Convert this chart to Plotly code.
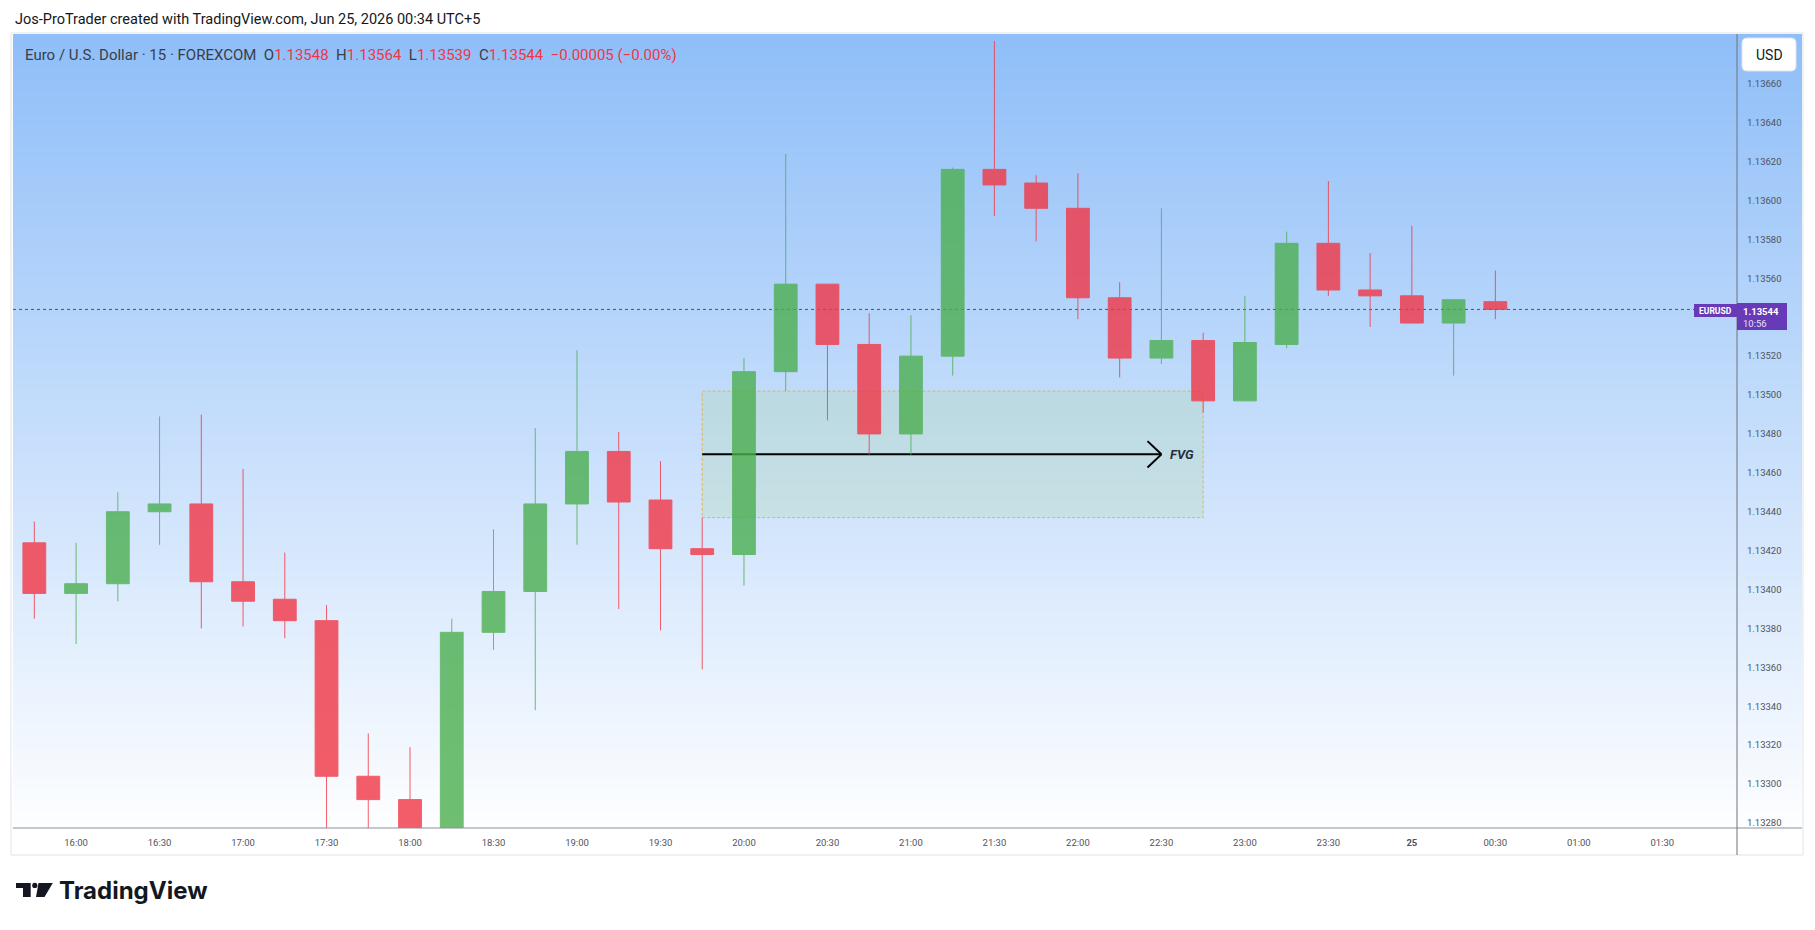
import zlib, struct, base64
import plotly.graph_objects as go

# ---------------- data ----------------
times = [
    "2026-06-24 15:45", "2026-06-24 16:00", "2026-06-24 16:15", "2026-06-24 16:30",
    "2026-06-24 16:45", "2026-06-24 17:00", "2026-06-24 17:15", "2026-06-24 17:30",
    "2026-06-24 17:45", "2026-06-24 18:00", "2026-06-24 18:15", "2026-06-24 18:30",
    "2026-06-24 18:45", "2026-06-24 19:00", "2026-06-24 19:15", "2026-06-24 19:30",
    "2026-06-24 19:45", "2026-06-24 20:00", "2026-06-24 20:15", "2026-06-24 20:30",
    "2026-06-24 20:45", "2026-06-24 21:00", "2026-06-24 21:15", "2026-06-24 21:30",
    "2026-06-24 21:45", "2026-06-24 22:00", "2026-06-24 22:15", "2026-06-24 22:30",
    "2026-06-24 22:45", "2026-06-24 23:00", "2026-06-24 23:15", "2026-06-24 23:30",
    "2026-06-24 23:45", "2026-06-25 00:00", "2026-06-25 00:15", "2026-06-25 00:30",
]
opens = [1.13424, 1.13398, 1.13403, 1.13440, 1.13444, 1.13404, 1.13395, 1.13384,
         1.13304, 1.13292, 1.13262, 1.13378, 1.13399, 1.13444, 1.13471, 1.13446,
         1.13421, 1.13418, 1.13512, 1.13557, 1.13526, 1.13480, 1.13520, 1.13616,
         1.13609, 1.13596, 1.13550, 1.13519, 1.13528, 1.13497, 1.13526, 1.13578,
         1.13554, 1.13551, 1.13537, 1.13548]
highs = [1.13435, 1.13424, 1.13450, 1.13489, 1.13490, 1.13462, 1.13419, 1.13392,
         1.13326, 1.13319, 1.13385, 1.13431, 1.13483, 1.13523, 1.13481, 1.13466,
         1.13437, 1.13519, 1.13624, 1.13557, 1.13542, 1.13541, 1.13617, 1.13682,
         1.13613, 1.13614, 1.13558, 1.13596, 1.13532, 1.13551, 1.13584, 1.13610,
         1.13573, 1.13587, 1.13549, 1.13564]
lows = [1.13385, 1.13372, 1.13394, 1.13423, 1.13380, 1.13381, 1.13375, 1.13262,
        1.13265, 1.13250, 1.13255, 1.13369, 1.13338, 1.13423, 1.13390, 1.13379,
        1.13359, 1.13402, 1.13502, 1.13487, 1.13469, 1.13469, 1.13510, 1.13592,
        1.13579, 1.13539, 1.13509, 1.13516, 1.13491, 1.13497, 1.13524, 1.13551,
        1.13535, 1.13537, 1.13510, 1.13539]
closes = [1.13398, 1.13403, 1.13440, 1.13444, 1.13404, 1.13394, 1.13384, 1.13304,
          1.13292, 1.13262, 1.13378, 1.13399, 1.13444, 1.13471, 1.13445, 1.13421,
          1.13418, 1.13512, 1.13557, 1.13526, 1.13480, 1.13520, 1.13616, 1.13608,
          1.13596, 1.13550, 1.13519, 1.13528, 1.13497, 1.13527, 1.13578, 1.13554,
          1.13551, 1.13537, 1.13549, 1.13544]

price_ticks = [1.13280, 1.13300, 1.13320, 1.13340, 1.13360, 1.13380, 1.13400, 1.13420,
               1.13440, 1.13460, 1.13480, 1.13500, 1.13520, 1.13560, 1.13580,
               1.13600, 1.13620, 1.13640, 1.13660]
time_ticks = ["2026-06-24 16:00", "2026-06-24 16:30", "2026-06-24 17:00", "2026-06-24 17:30",
              "2026-06-24 18:00", "2026-06-24 18:30", "2026-06-24 19:00", "2026-06-24 19:30",
              "2026-06-24 20:00", "2026-06-24 20:30", "2026-06-24 21:00", "2026-06-24 21:30",
              "2026-06-24 22:00", "2026-06-24 22:30", "2026-06-24 23:00", "2026-06-24 23:30",
              "2026-06-25 00:00", "2026-06-25 00:30", "2026-06-25 01:00", "2026-06-25 01:30"]
time_labels = ["16:00", "16:30", "17:00", "17:30", "18:00", "18:30", "19:00", "19:30",
               "20:00", "20:30", "21:00", "21:30", "22:00", "22:30", "23:00", "23:30",
               "<b>25</b>", "00:30", "01:00", "01:30"]

x_range = ["2026-06-24 15:37:20", "2026-06-25 01:56:50"]
y_range = [1.132774, 1.136851]

# FVG: gap between the 19:45 high and the 20:15 low, drawn to 22:45
fvg_first, fvg_third, fvg_end, arrow_end = 16, 18, 28, 27

GREEN = "#4CAF50"
RED = "#F23645"
PURPLE = "#673AB7"
TXT = "#131722"
AX = "#50535e"
FONT = "Roboto, Arial, sans-serif"

# ---------------- helpers (pixel -> paper) ----------------
PL, PT, PR, PB = 13, 35, 1737, 828
PW, PH = PR - PL, PB - PT


def px(x):
    return (x - PL) / PW


def py(y):
    return (PB - y) / PH


def gradient_png(top, bottom, n=256):
    raw = b""
    for i in range(n):
        t = i / (n - 1)
        c = bytes(int(round(top[k] + (bottom[k] - top[k]) * t)) for k in range(3))
        raw += b"\x00" + c + c
    def chunk(tag, data):
        return (struct.pack(">I", len(data)) + tag + data
                + struct.pack(">I", zlib.crc32(tag + data) & 0xFFFFFFFF))
    png = (b"\x89PNG\r\n\x1a\n"
           + chunk(b"IHDR", struct.pack(">IIBBBBB", 2, n, 8, 2, 0, 0, 0))
           + chunk(b"IDAT", zlib.compress(raw))
           + chunk(b"IEND", b""))
    return "data:image/png;base64," + base64.b64encode(png).decode()


fig = go.Figure()
fig.add_trace(go.Candlestick(
    x=times, open=opens, high=highs, low=lows, close=closes,
    increasing=dict(line=dict(color=GREEN, width=1), fillcolor=GREEN),
    decreasing=dict(line=dict(color=RED, width=1), fillcolor=RED),
    whiskerwidth=0, opacity=0.8, showlegend=False, hoverinfo="skip",
))

shapes = []
# FVG box
shapes.append(dict(type="rect", xref="x", yref="y", layer="below",
                   x0=times[fvg_first], x1=times[fvg_end],
                   y0=highs[fvg_first], y1=lows[fvg_third],
                   fillcolor="rgba(175,215,172,0.3)",
                   line=dict(color="rgba(240,170,50,0.85)", width=1, dash="3px,2px")))
# FVG arrow
mid = (highs[fvg_first] + lows[fvg_third]) / 2
shapes.append(dict(type="line", xref="x", yref="y", layer="below",
                   x0=times[fvg_first], x1=times[arrow_end], y0=mid, y1=mid,
                   line=dict(color="#000000", width=2)))
shapes.append(dict(type="line", xref="x", yref="y", layer="below",
                   x0="2026-06-24 22:25", x1=times[arrow_end],
                   y0=mid + 0.000068, y1=mid, line=dict(color="#000000", width=2)))
shapes.append(dict(type="line", xref="x", yref="y", layer="below",
                   x0="2026-06-24 22:25", x1=times[arrow_end],
                   y0=mid - 0.000068, y1=mid, line=dict(color="#000000", width=2)))
# current price dotted line
last = closes[-1]
shapes.append(dict(type="line", xref="paper", yref="y", layer="below",
                   x0=0, x1=1, y0=last, y1=last,
                   line=dict(color=PURPLE, width=1, dash="dot")))
# frame & axes lines
shapes.append(dict(type="rect", xref="paper", yref="paper", layer="above",
                   x0=px(11), x1=px(1803), y0=py(33), y1=py(855),
                   line=dict(color="#e0e3eb", width=1)))
shapes.append(dict(type="line", xref="paper", yref="paper", layer="above",
                   x0=px(PL), x1=px(1802), y0=py(PB), y1=py(PB),
                   line=dict(color="#8c8f99", width=1)))
shapes.append(dict(type="line", xref="paper", yref="paper", layer="above",
                   x0=px(PR), x1=px(PR), y0=py(34), y1=py(855),
                   line=dict(color="#6f727c", width=1)))
# USD button (rounded)
bx0, bx1, by0, by1, r = 1742, 1796, 38, 71, 5
path = (f"M {px(bx0 + r)},{py(by0)} L {px(bx1 - r)},{py(by0)} "
        f"Q {px(bx1)},{py(by0)} {px(bx1)},{py(by0 + r)} L {px(bx1)},{py(by1 - r)} "
        f"Q {px(bx1)},{py(by1)} {px(bx1 - r)},{py(by1)} L {px(bx0 + r)},{py(by1)} "
        f"Q {px(bx0)},{py(by1)} {px(bx0)},{py(by1 - r)} L {px(bx0)},{py(by0 + r)} "
        f"Q {px(bx0)},{py(by0)} {px(bx0 + r)},{py(by0)} Z")
shapes.append(dict(type="path", xref="paper", yref="paper", layer="above", path=path,
                   fillcolor="#ffffff", line=dict(color="#e0e3eb", width=1)))
# price labels on axis
shapes.append(dict(type="rect", xref="paper", yref="paper", layer="above",
                   x0=px(1737), x1=px(1787), y0=py(303), y1=py(330),
                   fillcolor=PURPLE, line=dict(width=0)))
shapes.append(dict(type="rect", xref="paper", yref="paper", layer="above",
                   x0=px(1694), x1=px(1737), y0=py(304), y1=py(317),
                   fillcolor=PURPLE, line=dict(width=0)))
# TradingView logo
shapes.append(dict(type="path", xref="paper", yref="paper", layer="above",
                   path=(f"M {px(16)},{py(883)} L {px(30.7)},{py(883)} L {px(30.7)},{py(897)} "
                         f"L {px(23)},{py(897)} L {px(23)},{py(888)} L {px(16)},{py(888)} Z"),
                   fillcolor="#131722", line=dict(width=0)))
shapes.append(dict(type="circle", xref="paper", yref="paper", layer="above",
                   x0=px(32.2), x1=px(37.4), y0=py(882.8), y1=py(888),
                   fillcolor="#131722", line=dict(width=0)))
shapes.append(dict(type="path", xref="paper", yref="paper", layer="above",
                   path=(f"M {px(38.5)},{py(883)} L {px(52.8)},{py(883)} L {px(44.5)},{py(897)} "
                         f"L {px(36)},{py(897)} Z"),
                   fillcolor="#131722", line=dict(width=0)))

ann = []
ann.append(dict(text="Jos-ProTrader created with TradingView.com, Jun 25, 2026 00:34 UTC+5",
                x=px(13), y=py(19.5), xref="paper", yref="paper", xanchor="left", yanchor="middle",
                showarrow=False, font=dict(family=FONT, size=14.5, color=TXT)))
chg = closes[-1] - closes[-2]
pct = chg / closes[-2] * 100
sp = "\u00a0\u00a0"


def red(v):
    return f"<span style='color:{RED}'>{v}</span>"


def sgn(v, fmt):
    s = format(abs(v), fmt)
    return ("\u2212" if v < 0 else "+") + s


hdr = ("Euro / U.S. Dollar \u00b7 15 \u00b7 FOREXCOM" + sp
       + "O" + red(f"{opens[-1]:.5f}") + sp + "H" + red(f"{highs[-1]:.5f}") + sp
       + "L" + red(f"{lows[-1]:.5f}") + sp + "C" + red(f"{closes[-1]:.5f}") + sp
       + red(f"{sgn(chg, '.5f')} ({sgn(pct, '.2f')}%)"))
ann.append(dict(text=hdr, x=px(23), y=py(54.5), xref="paper", yref="paper",
                xanchor="left", yanchor="middle", showarrow=False,
                font=dict(family=FONT, size=15, color="#3a3d47")))
ann.append(dict(text="<b><i>FVG</i></b>", x=times[arrow_end], y=mid, xref="x", yref="y",
                xanchor="left", yanchor="middle", xshift=7, showarrow=False,
                font=dict(family=FONT, size=13, color="#2a2e39")))
ann.append(dict(text="USD", x=px(1769), y=py(54.5), xref="paper", yref="paper",
                xanchor="center", yanchor="middle", showarrow=False,
                font=dict(family=FONT, size=14, color=TXT)))
ann.append(dict(text=f"<b>{last:.5f}</b>", x=px(1741), y=py(311.5), xref="paper", yref="paper",
                xanchor="left", yanchor="middle", showarrow=False,
                font=dict(family=FONT, size=9.5, color="#ffffff")))
ann.append(dict(text="10:56", x=px(1741), y=py(323), xref="paper", yref="paper",
                xanchor="left", yanchor="middle", showarrow=False,
                font=dict(family=FONT, size=9.5, color="#e8e0f5")))
ann.append(dict(text="<b>EURUSD</b>", x=px(1715.5), y=py(310.7), xref="paper", yref="paper",
                xanchor="center", yanchor="middle", showarrow=False,
                font=dict(family=FONT, size=8.5, color="#ffffff")))
ann.append(dict(text="<b>TradingView</b>", x=px(57), y=py(890.5), xref="paper", yref="paper",
                xanchor="left", yanchor="middle", showarrow=False,
                font=dict(family="Inter, Roboto, sans-serif", size=24, color="#131722")))

fig.update_layout(
    width=1815, height=930, autosize=False,
    margin=dict(l=PL, r=1815 - PR, t=PT, b=930 - PB, pad=0),
    paper_bgcolor="#ffffff", plot_bgcolor="rgba(0,0,0,0)",
    boxgap=0.22,
    shapes=shapes, annotations=ann,
    images=[dict(source=gradient_png((143, 190, 248), (253, 254, 255)),
                 xref="paper", yref="paper", x=px(PL), y=py(34),
                 sizex=px(1802) - px(PL), sizey=py(34) - py(PB),
                 xanchor="left", yanchor="top", sizing="stretch", layer="below")],
    xaxis=dict(type="date", range=x_range, rangeslider=dict(visible=False),
               showgrid=False, zeroline=False, showline=False, ticks="",
               tickvals=time_ticks, ticktext=time_labels, ticklabelstandoff=7,
               tickfont=dict(family=FONT, size=9.5, color=AX), fixedrange=True),
    yaxis=dict(range=y_range, side="right", showgrid=False, zeroline=False, showline=False,
               ticks="", tickvals=price_ticks, ticktext=[f"{v:.5f}" for v in price_ticks],
               ticklabelstandoff=9,
               tickfont=dict(family=FONT, size=9.5, color=AX), fixedrange=True),
    hovermode=False,
)

fig.write_html("out.html")
